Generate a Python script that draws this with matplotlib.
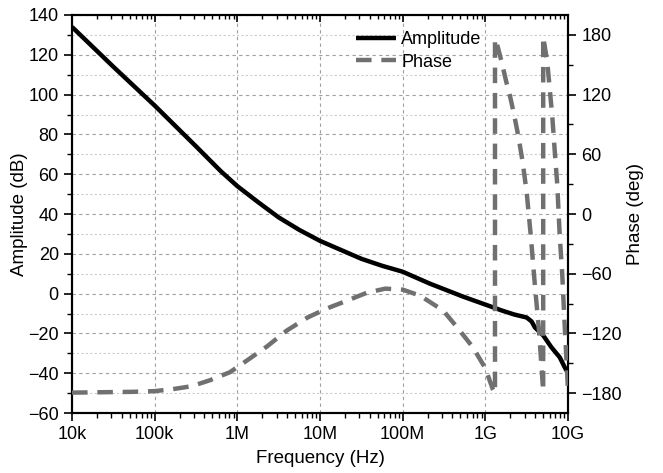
import numpy as np
import matplotlib
matplotlib.use('Agg')
import matplotlib.pyplot as plt
from matplotlib.ticker import FixedLocator, FixedFormatter, MultipleLocator, LogLocator, NullFormatter

plt.rcParams['font.family'] = ['Liberation Sans', 'DejaVu Sans']
plt.rcParams['font.size'] = 13

# amplitude (log10 of frequency, dB)
amp_logf = [4.0, 4.5, 5.0, 5.5, 5.8, 6.0, 6.25, 6.5, 6.75, 7.0, 7.25, 7.5, 7.75,
            8.0, 8.33, 8.73, 9.0, 9.2, 9.35, 9.5, 9.56, 9.6, 9.7, 9.8, 9.9, 9.96, 10.0]
amp_db = [134, 114, 94.5, 74, 61.5, 54, 46, 38.3, 32, 26.5, 22, 17.5, 14,
          11, 5, -1.5, -5.5, -8.5, -10.5, -12, -14, -17, -21, -27, -32, -37, -40]

# phase (log10 of frequency, deg) - wraps at +-180
ph_logf = [4.0, 4.46, 4.73, 5.0, 5.22, 5.45, 5.67, 5.91, 6.12, 6.36, 6.6, 6.85,
           7.08, 7.33, 7.57, 7.79, 8.0, 8.21, 8.49, 8.67, 8.85, 9.0, 9.09, 9.117,
           9.117, 9.15, 9.2, 9.25, 9.3, 9.35, 9.4, 9.45, 9.5, 9.55, 9.6, 9.65, 9.70,
           9.70, 9.72, 9.75, 9.78, 9.81, 9.84, 9.87, 9.9, 9.93, 9.96, 9.99, 10.0]
ph_deg = [-179.5, -179, -178.7, -178, -176, -173, -167, -159, -147, -133, -117, -104,
          -95, -87, -79, -75, -76, -82, -97, -115, -134, -155, -176, -180,
          176, 168, 152, 134, 118, 99, 78, 53, 22, -22, -72, -118, -178,
          178, 168, 152, 125, 98, 63, 30, -22, -60, -112, -160, -178]

amp_f = 10 ** np.array(amp_logf)
ph_f = 10 ** np.array(ph_logf)

freq_ticks = [1e4, 1e5, 1e6, 1e7, 1e8, 1e9, 1e10]
freq_labels = ['10k', '100k', '1M', '10M', '100M', '1G', '10G']

fig = plt.figure(figsize=(6.63, 4.73), dpi=100)
ax = fig.add_axes([0.1086, 0.1268, 0.7481, 0.8415])
ax2 = ax.twinx()

l1, = ax.plot(amp_f, amp_db, color='black', lw=3.2, solid_capstyle='butt', zorder=3)
l2, = ax2.plot(ph_f, ph_deg, color='#707070', lw=3.2, dashes=(3.5, 2.2), zorder=3)

ax.set_xscale('log')
ax.set_xlim(1e4, 1e10)
ax.set_ylim(-60, 140)
ax2.set_ylim(-200, 200)

ax.xaxis.set_major_locator(FixedLocator(freq_ticks))
ax.xaxis.set_major_formatter(FixedFormatter(freq_labels))
ax.xaxis.set_minor_locator(LogLocator(base=10, subs=np.arange(2, 10)))
ax.xaxis.set_minor_formatter(NullFormatter())
ax.yaxis.set_major_locator(MultipleLocator(20))
ax.yaxis.set_minor_locator(MultipleLocator(10))
ax2.yaxis.set_major_locator(FixedLocator([-180, -120, -60, 0, 60, 120, 180]))
ax2.yaxis.set_minor_locator(FixedLocator([-150, -90, -30, 30, 90, 150]))

# top ticks pointing in, via the twin's own x axis
ax2.xaxis.set_visible(True)
ax2.tick_params(axis='x', which='both', bottom=False, top=True, labelbottom=False,
                labeltop=False, direction='in')
ax2.tick_params(axis='x', which='major', length=5, width=1.2)
ax2.tick_params(axis='x', which='minor', length=3, width=1.0)

ax.tick_params(which='major', direction='out', length=6, width=1.2, labelsize=13)
ax.tick_params(which='minor', direction='out', length=3.5, width=1.0)
ax2.tick_params(axis='y', which='major', direction='out', length=6, width=1.2, labelsize=13)
ax2.tick_params(axis='y', which='minor', direction='out', length=3.5, width=1.0)

# grid
ax.grid(which='major', axis='x', color='#a0a0a0', ls=(0, (3, 3)), lw=0.8)
ax.grid(which='major', axis='y', color='#a0a0a0', ls=(0, (3, 3)), lw=0.8)
ax.grid(which='minor', axis='y', color='#cccccc', ls=(0, (2, 2)), lw=0.8)
ax.set_axisbelow(True)

for a in (ax, ax2):
    for s in a.spines.values():
        s.set_linewidth(1.5)

ax.set_xlabel('Frequency (Hz)', fontsize=13.5, labelpad=5)
ax.set_ylabel('Amplitude (dB)', fontsize=13.5, labelpad=0)
ax2.set_ylabel('Phase (deg)', fontsize=13.5, labelpad=4)

ax.legend([l1, l2], ['Amplitude', 'Phase'], loc='upper left', bbox_to_anchor=(0.54, 1.0),
          frameon=False, handlelength=2.2, handletextpad=0.3, labelspacing=0.3,
          borderaxespad=0.5, fontsize=13)

fig.savefig('out.png', dpi=100)
